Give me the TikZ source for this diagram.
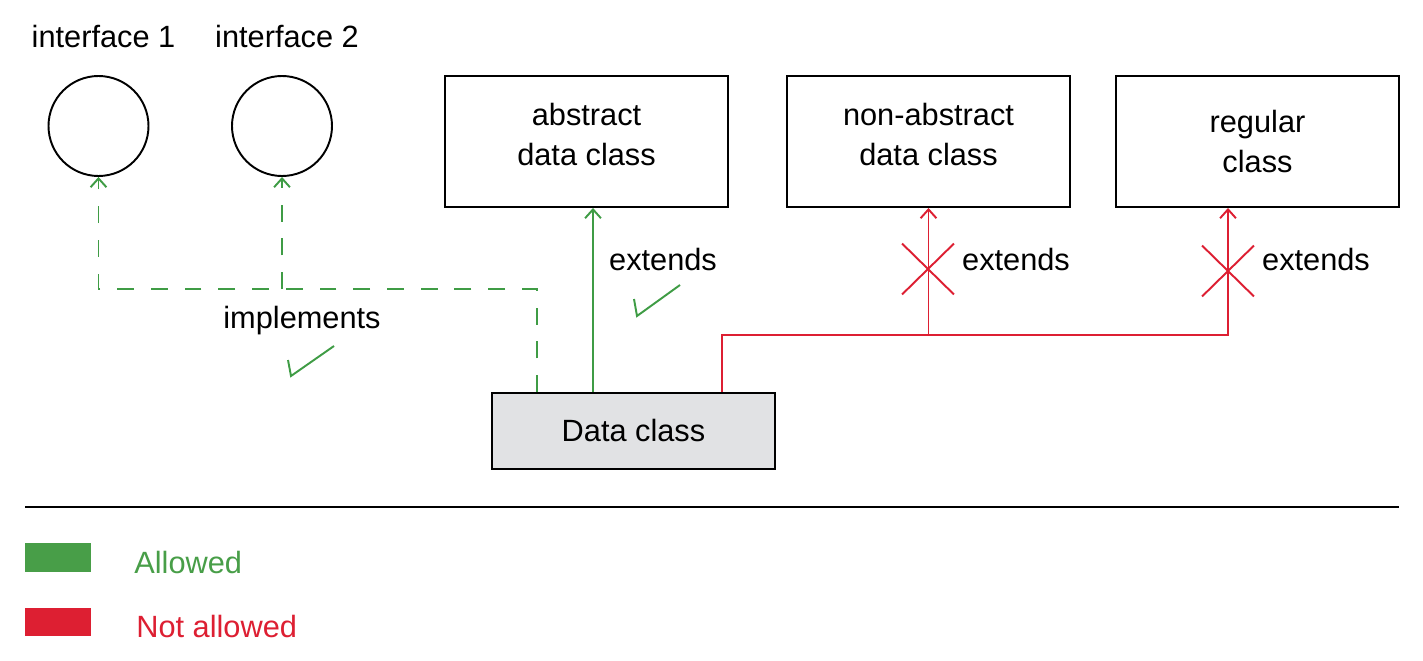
\documentclass[tikz,border=0pt]{standalone}
\usepackage{fontspec}
\setmainfont{Liberation Sans}
\usetikzlibrary{arrows.meta,shapes.misc}
\definecolor{okgreen}{HTML}{3F9C45}
\definecolor{legendgreen}{HTML}{489E48}
\definecolor{nored}{HTML}{DD1F32}
\definecolor{boxgray}{HTML}{E1E2E4}
\tikzset{
	classbox/.style={draw,line width=1.1pt,minimum width=5.66cm,minimum height=2.62cm,align=center,inner sep=0pt},
	iface/.style={draw,circle,line width=1.1pt,minimum size=2cm,inner sep=0pt},
	allowed/.style={okgreen,line width=1.1pt},
	denied/.style={nored,line width=1.1pt},
	tip/.style={-{Straight Barb[length=5pt,width=9pt]}},
	cross/.style={cross out,draw=nored,line width=1.1pt,minimum width=1cm,minimum height=0.98cm,inner sep=0pt},
}
\begin{document}
\begin{tikzpicture}[every node/.style={font=\fontsize{17.5}{22.5}\selectfont}]
		\useasboundingbox (0,0) rectangle (28.46,-13.22);
		\node[anchor=base](i1) at (2.07,-0.94) {interface 1};
		\node[anchor=base](i2) at (5.74,-0.94) {interface 2};
		\node[iface](c1) at (1.97,-2.52) {};
		\node[iface](c2) at (5.64,-2.52) {};
		\node[classbox,text depth=0.29cm](abs) at (11.73,-2.83) {abstract\\data class};
		\node[classbox,text depth=0.29cm](nab) at (18.57,-2.83) {non-abstract\\data class};
		\node[classbox](reg) at (25.15,-2.83) {regular\\class};
		\node[classbox,fill=boxgray,minimum height=1.52cm](dc) at (12.67,-8.62) {Data class};
		\coordinate (bend) at (0,-5.78);
		\coordinate (rjoin) at (0,-6.7);
		\draw[allowed,tip,dash pattern=on 9.6pt off 9.6pt] ([xshift=-1.93cm]dc.north) |- (c1.south |- bend) -- (c1.south);
		\draw[allowed,tip,dash pattern=on 9.6pt off 9.6pt] (c2.south |- bend) -- (c2.south);
		\draw[allowed,tip] ([xshift=-0.81cm]dc.north) -- ([xshift=-0.81cm]dc.north |- abs.south);
		\draw[denied,tip] ([xshift=1.77cm]dc.north) |- ([xshift=-0.59cm]reg.south |- rjoin) -- ([xshift=-0.59cm]reg.south);
		\draw[denied,tip] (nab.south |- rjoin) -- (nab.south);
		\node[cross](x1) at (18.56,-5.38) {};
		\node[cross](x2) at (24.56,-5.42) {};
		\node[anchor=base](e1) at (13.26,-5.4) {extends};
		\node[anchor=base](e2) at (20.32,-5.4) {extends};
		\node[anchor=base](e3) at (26.32,-5.4) {extends};
		\node[anchor=base](im) at (6.04,-6.56) {implements};
		\draw[allowed] (12.68,-5.98) -- (12.74,-6.32) -- (13.6,-5.7);
		\draw[allowed] (5.76,-7.2) -- (5.82,-7.52) -- (6.68,-6.92);
		\draw[line width=1.1pt] (0.5,-10.14) -- (27.98,-10.14);
		\fill[legendgreen] (0.5,-10.86) rectangle (1.82,-11.44);
		\fill[nored] (0.5,-12.16) rectangle (1.82,-12.72);
		\node[anchor=base west,inner sep=0pt,text=legendgreen](ok) at (2.68,-11.46) {Allowed};
		\node[anchor=base west,inner sep=0pt,text=nored](nok) at (2.72,-12.74) {Not allowed};
	\end{tikzpicture}
\end{document}
